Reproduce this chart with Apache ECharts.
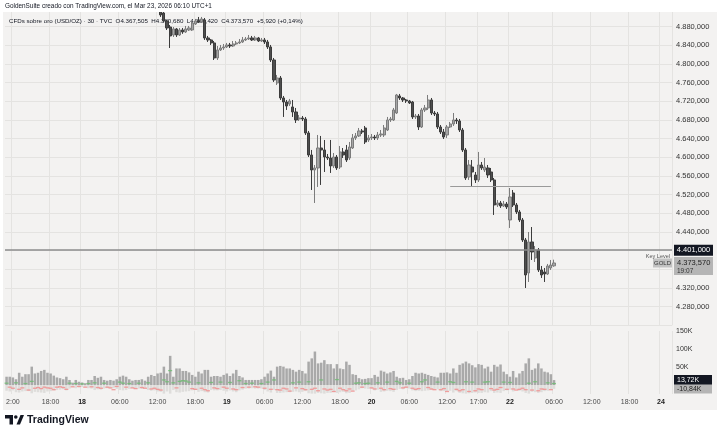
<!DOCTYPE html>
<html lang="es">
<head>
  <meta charset="UTF-8">
  <title>CFDs sobre oro (USD/OZ) · 30 · TVC</title>
  <script src="https://cdn.jsdelivr.net/npm/echarts@6/dist/echarts.min.js"></script>
  <style>html,body{margin:0;padding:0;background:#fff;}</style>
</head>
<body>
  <div id="main" style="width:720px;height:439px;"></div>
  <script type="text/javascript">
    // 30 min bars, UTC+1, daily break 22:00-23:00, weekend skipped
    const sessions = [
      [17, '11:00', '23:30'], [18, '00:00', '23:30'], [19, '00:00', '23:30'],
      [20, '00:00', '21:30'], [22, '23:00', '23:30'], [23, '00:00', '23:30'], [24, '00:00', '01:30']
    ];
    const tickLabels = [
      ['17 12:00', '2:00'], ['17 18:00', '18:00'], ['18 00:00', '18'], ['18 06:00', '06:00'],
      ['18 12:00', '12:00'], ['18 18:00', '18:00'], ['19 00:00', '19'], ['19 06:00', '06:00'],
      ['19 12:00', '12:00'], ['19 18:00', '18:00'], ['20 00:00', '20'], ['20 06:00', '06:00'],
      ['20 12:00', '12:00'], ['20 17:00', '17:00'], ['22 23:00', '22'], ['23 06:00', '06:00'],
      ['23 12:00', '12:00'], ['23 18:00', '18:00'], ['24 00:00', '24']
    ];
    const dayLabels = ['18', '19', '20', '22', '24'];

    // bars before this index sit above the visible price range
    const firstVisible = 49;
    const opens = [
      4915.8, 4909.3, 4892.2, 4879.3, 4862.2, 4875.1, 4862.2, 4872.9, 4868.6, 4872.9,
      4872.9, 4885.8, 4892.2, 4890.1, 4894.3, 4855.8, 4851.5, 4845.1, 4812.9, 4830.1,
      4834.3, 4836.5, 4840.8, 4838.6, 4842.9, 4845.1, 4847.2, 4851.5, 4853.6, 4855.8,
      4851.5, 4855.8, 4849.3, 4851.5, 4847.2, 4836.5, 4808.6, 4759.3, 4770.0, 4727.2,
      4718.6, 4714.3, 4707.9, 4697.2, 4682.2, 4684.3, 4682.2, 4652.2, 4605.0, 4572.9,
      4577.2, 4620.0, 4615.8, 4600.7, 4598.6, 4581.5, 4600.7, 4579.3, 4611.5, 4615.8,
      4598.6, 4620.0, 4641.5, 4645.8, 4656.5, 4662.9, 4637.2, 4641.5, 4643.6, 4641.5,
      4647.9, 4647.9, 4658.6, 4680.0, 4680.0, 4695.0, 4731.5, 4727.2, 4722.9, 4720.8,
      4718.6, 4686.5, 4688.6, 4665.0, 4701.5, 4705.8, 4722.9, 4695.0, 4692.9, 4665.0,
      4654.3, 4647.9, 4665.0, 4671.5, 4680.0, 4677.9, 4658.6, 4615.8, 4557.9, 4579.3,
      4562.2, 4551.5, 4583.6, 4572.9, 4577.2, 4568.6, 4551.5, 4497.9, 4502.2, 4495.7,
      4500.0, 4465.8, 4523.6, 4497.9, 4482.9, 4465.8, 4422.9, 4352.2, 4418.6, 4384.3,
      4401.5, 4358.6, 4354.3, 4350.0, 4362.9, 4367.505
    ];
    const closes = [
      4905.1, 4892.2, 4877.2, 4860.1, 4875.1, 4862.2, 4872.9, 4868.6, 4875.1, 4877.2,
      4887.9, 4892.2, 4890.1, 4896.5, 4855.8, 4851.5, 4845.1, 4812.9, 4830.1, 4834.3,
      4836.5, 4840.8, 4838.6, 4842.9, 4845.1, 4847.2, 4851.5, 4853.6, 4855.8, 4851.5,
      4855.8, 4849.3, 4851.5, 4847.2, 4836.5, 4808.6, 4765.8, 4770.0, 4727.2, 4718.6,
      4710.0, 4720.8, 4697.2, 4680.0, 4684.3, 4682.2, 4652.2, 4605.0, 4572.9, 4577.2,
      4620.0, 4615.8, 4600.7, 4598.6, 4581.5, 4600.7, 4577.2, 4611.5, 4605.0, 4594.3,
      4622.2, 4641.5, 4645.8, 4656.5, 4654.3, 4632.9, 4641.5, 4643.6, 4641.5, 4647.9,
      4650.0, 4662.9, 4680.0, 4682.2, 4701.5, 4733.6, 4727.2, 4722.9, 4720.8, 4716.5,
      4686.5, 4688.6, 4665.0, 4701.5, 4705.8, 4722.9, 4695.0, 4692.9, 4665.0, 4654.3,
      4643.6, 4665.0, 4671.5, 4680.0, 4677.9, 4658.6, 4615.8, 4555.8, 4583.6, 4568.6,
      4551.5, 4583.6, 4577.2, 4579.3, 4562.2, 4551.5, 4497.9, 4502.2, 4495.7, 4500.0,
      4493.6, 4515.0, 4497.9, 4482.9, 4465.8, 4422.9, 4347.9, 4418.6, 4397.2, 4401.5,
      4358.6, 4347.9, 4350.0, 4367.2, 4369.3, 4373.57
    ];
    const highs = [
      4924.3, 4915.8, 4894.3, 4883.6, 4879.3, 4877.2, 4877.2, 4877.2, 4881.5, 4881.5,
      4892.2, 4896.5, 4900.8, 4900.8, 4898.6, 4860.1, 4853.6, 4849.3, 4838.6, 4840.8,
      4842.9, 4845.1, 4845.1, 4849.3, 4849.3, 4853.6, 4857.9, 4857.9, 4862.2, 4860.1,
      4860.1, 4857.9, 4855.8, 4855.8, 4851.5, 4840.8, 4812.9, 4776.5, 4774.3, 4731.5,
      4722.9, 4725.1, 4722.9, 4705.8, 4690.8, 4688.6, 4686.5, 4656.5, 4615.8, 4583.6,
      4647.9, 4645.8, 4637.2, 4607.2, 4637.2, 4609.3, 4605.0, 4624.3, 4620.0, 4626.5,
      4632.9, 4650.0, 4652.2, 4662.9, 4660.7, 4667.2, 4647.9, 4650.0, 4647.9, 4654.3,
      4658.6, 4669.3, 4686.5, 4686.5, 4705.8, 4735.8, 4735.8, 4729.3, 4725.1, 4722.9,
      4720.8, 4692.9, 4692.9, 4705.8, 4712.2, 4733.6, 4727.2, 4699.3, 4697.2, 4669.3,
      4660.7, 4669.3, 4675.8, 4695.0, 4684.3, 4682.2, 4662.9, 4620.0, 4594.3, 4594.3,
      4568.6, 4611.5, 4590.0, 4598.6, 4583.6, 4577.2, 4555.8, 4508.6, 4506.5, 4506.5,
      4504.3, 4534.3, 4530.0, 4502.2, 4487.2, 4470.0, 4427.2, 4440.0, 4450.7, 4410.0,
      4405.7, 4367.2, 4362.9, 4371.5, 4380.0, 4380.68
    ];
    const lows = [
      4900.8, 4890.1, 4872.9, 4834.3, 4857.9, 4857.9, 4860.1, 4864.6, 4866.5, 4870.8,
      4870.8, 4883.6, 4887.9, 4887.9, 4851.5, 4847.2, 4840.8, 4808.6, 4808.6, 4827.9,
      4830.1, 4834.3, 4834.3, 4836.5, 4840.8, 4842.9, 4845.1, 4849.3, 4851.5, 4849.3,
      4849.3, 4847.2, 4847.2, 4842.9, 4832.2, 4804.3, 4761.5, 4755.0, 4722.9, 4686.5,
      4701.5, 4710.0, 4686.5, 4673.6, 4677.9, 4677.9, 4647.9, 4600.7, 4530.0, 4502.2,
      4536.5, 4540.8, 4568.6, 4594.3, 4566.5, 4577.2, 4572.9, 4575.0, 4598.6, 4590.0,
      4594.3, 4617.9, 4637.2, 4643.6, 4650.0, 4628.6, 4632.9, 4637.2, 4637.2, 4637.2,
      4643.6, 4643.6, 4656.5, 4675.8, 4677.9, 4692.9, 4722.9, 4718.6, 4716.5, 4714.3,
      4682.2, 4682.2, 4658.6, 4662.9, 4697.2, 4701.5, 4690.8, 4688.6, 4660.7, 4650.0,
      4639.3, 4641.5, 4662.9, 4667.2, 4671.5, 4654.3, 4611.5, 4551.5, 4551.5, 4538.6,
      4545.0, 4547.2, 4572.9, 4568.6, 4555.8, 4547.2, 4476.5, 4493.6, 4491.5, 4493.6,
      4489.3, 4448.6, 4493.6, 4478.6, 4461.5, 4418.6, 4320.0, 4332.9, 4380.0, 4375.7,
      4354.3, 4341.5, 4332.9, 4347.9, 4358.6, 4365.42
    ];

    // volume pane, thousands
    const volume = [
      23, 23, 21, 16, 34, 23, 30, 30, 51, 32, 34, 39, 42, 34, 32, 26, 21, 19, 16, 23,
      14, 6.5, 14, 9, 7, 5, 14, 14, 25, 20, 23, 14, 12, 14, 12, 16, 23, 26, 23, 16,
      12, 14, 14, 16, 12, 23, 28, 25, 32, 34, 51, 32, 81, 23, 46, 46, 39, 39, 35, 28,
      23, 37, 32, 42, 42, 23, 25, 25, 23, 28, 32, 25, 32, 42, 25, 21, 14, 14, 14, 14,
      14, 16, 23, 32, 40, 23, 51, 53, 51, 46, 46, 42, 37,
      42, 39, 32, 65, 74, 93, 60, 62, 69, 58, 58, 46, 58, 46, 44, 65, 56, 30, 28, 19,
      16, 17, 19, 19, 28, 23, 40, 37, 32, 35, 39, 23, 19, 20, 14, 16, 25, 34, 32, 34,
      31, 28, 25, 23, 21, 34, 34, 35, 32, 46, 34, 56, 60, 65, 60, 55, 49, 58, 56, 46,
      51, 37, 56, 51, 57, 37, 30, 23, 39, 21, 32, 39, 60, 74, 42, 46, 60, 46, 37, 35,
      30, 13.72
    ];
    const sellVolume = [
      -16, -18, -15, -20, -21, -18, -17, -17, -23, -19, -20, -21, -22, -18, -17, -15, -14, -13, -12, -15,
      -10, -6, -9, -7, -6, -5, -9, -10, -14, -12, -13, -10, -9, -10, -9, -11, -14, -15, -14, -11,
      -9, -10, -10, -11, -9, -14, -16, -15, -18, -19, -24, -18, -24, -14, -20, -21, -19, -18, -17, -15,
      -14, -19, -17, -20, -21, -14, -15, -15, -14, -16, -18, -15, -18, -20, -15, -13, -10, -10, -9, -10,
      -10, -10, -14, -18, -21, -14, -22, -22, -21, -20, -20, -19, -18,
      -20, -19, -17, -23, -24, -24, -22, -23, -24, -22, -22, -20, -22, -20, -19, -23, -22, -16, -15, -12,
      -9, -10, -11, -11, -15, -13, -19, -18, -16, -17, -19, -14, -11, -12, -9, -10, -15, -17, -16, -17,
      -16, -15, -14, -13, -12, -17, -17, -18, -16, -21, -17, -22, -23, -24, -23, -22, -21, -22, -22, -20,
      -21, -17, -22, -21, -22, -17, -15, -13, -18, -12, -16, -18, -22, -24, -19, -20, -22, -20, -17, -16,
      -14, -10.84
    ];
    const delta = [
      5, -6, -9, 6, -12, -8, 4, -14, 10, -9, -7, -10, -6, -8, -9, -13, -6, -5, -7, -12,
      5, -5, 4, -4, 3, -6, 4, -5, 6, -7, -9, 5, -6, -8, -13, -4, 8, 5, -6, 4,
      -8, -10, 5, -7, -9, 6, -11, -9, -12, -14, 14, 9, 40, 6, -8, 10, 12, 11, 8, -10,
      -12, 6, -9, -13, -16, 7, -8, -10, 8, -6, -9, 7, -11, -13, 12, -7, 4, -6, 5, -5,
      -6, 4, -9, 8, -12, 14, -13, -14, -9, -11, -17, 6, -8,
      8, -10, -13, 9, -12, -9, -16, 14, -11, -14, -12, -18, 15, -9, -13, -16, -11, -17, 5, 6,
      -6, 4, 5, -8, -11, 6, -9, -13, 8, -10, -12, 10, 6, -8, -6, 5, -9, -12, -10, 9,
      14, -7, -11, -13, 8, -13, -10, -18, 9, 7, -12, -16, -13, 9, -18, 8, -16, -11, -13, 8,
      9, -10, -14, -12, -7, 8, -12, 7, -11, -14, -12, -9, -13, 5, -14, 9, -16, -11, -12, 6,
      -13, 4
    ];
    const keyLevel = 4401;
    const supportLevel = 4539;
    const supportFrom = '20 12:30', supportTo = '23 05:30';

    function buildTimes() {
      const out = [];
      const toSlot = s => { const p = s.split(':'); return (+p[0]) * 2 + (+p[1]) / 30; };
      sessions.forEach(([day, from, to]) => {
        for (let s = toSlot(from); s <= toSlot(to); s++) {
          const hh = Math.floor(s / 2);
          if (hh === 22) continue;
          out.push(day + ' ' + String(hh).padStart(2, '0') + ':' + (s % 2 ? '30' : '00'));
        }
      });
      return out;
    }
    const times = buildTimes();
    const labelMap = new Map(tickLabels);

    function fmtPrice(v) {
      const s = v.toFixed(3).split('.');
      return s[0].replace(/\B(?=(\d{3})+(?!\d))/g, '.') + ',' + s[1];
    }
    function fmtK(v) { return v.toFixed(2).replace('.', ',') + 'K'; }

    const candleData = [];
    for (let k = 0; k < firstVisible; k++) candleData.push('-');
    opens.forEach((o, j) => candleData.push([o, closes[j], lows[j], highs[j]]));

    const FONT = '"Liberation Sans", Arial, sans-serif';
    const gridLine = { show: true, lineStyle: { color: '#e4e3e1', width: 1 } };
    const showTick = (idx, val) => labelMap.has(val);

    var myChart = echarts.init(document.getElementById('main'));
    var option = {
      animation: false,
      backgroundColor: '#ffffff',
      textStyle: { fontFamily: FONT },
      grid: [
        { left: 5, right: 48, top: 8, height: 317.33 },
        { left: 5, right: 48, top: 331, height: 63 }
      ],
      xAxis: [
        {
          type: 'category', gridIndex: 0, data: times, boundaryGap: true,
          axisLine: { show: false }, axisTick: { show: false }, axisLabel: { show: false },
          splitLine: Object.assign({ interval: showTick }, gridLine)
        },
        {
          type: 'category', gridIndex: 1, data: times, boundaryGap: true,
          axisLine: { show: false }, axisTick: { show: false },
          splitLine: Object.assign({ interval: showTick }, gridLine),
          axisLabel: {
            interval: showTick, margin: 5, fontSize: 7, color: '#4a4a4a', fontFamily: FONT,
            formatter: v => {
              const t = labelMap.get(v) || '';
              return dayLabels.includes(t) ? '{b|' + t + '}' : t;
            },
            rich: { b: { fontWeight: 'bold', fontSize: 7, color: '#222', fontFamily: FONT } }
          }
        }
      ],
      yAxis: [
        {
          type: 'value', gridIndex: 0, position: 'right', min: 4240, max: 4920, interval: 40,
          axisLine: { show: false }, axisTick: { show: false },
          splitLine: gridLine,
          axisLabel: {
            margin: 4, fontSize: 7.5, color: '#333', fontFamily: FONT,
            formatter: v => (v >= 4280 && v <= 4880 && v !== 4360 && v !== 4400) ? fmtPrice(v) : ''
          }
        },
        {
          type: 'value', gridIndex: 1, position: 'right', min: -25000, max: 150000, interval: 25000,
          axisLine: { show: false }, axisTick: { show: false }, splitLine: { show: false },
          axisLabel: {
            margin: 4, fontSize: 7, color: '#333', fontFamily: FONT,
            formatter: v => (v > 0 && v % 50000 === 0) ? (v / 1000) + 'K' : ''
          }
        }
      ],
      series: [
        {
          name: 'GOLD', type: 'candlestick', xAxisIndex: 0, yAxisIndex: 0,
          data: candleData, barWidth: '84%',
          itemStyle: {
            color: '#a6a6a6', color0: '#4e4e4e',
            borderColor: '#7c7c7c', borderColor0: '#3c3c3c', borderWidth: 1
          },
          markLine: {
            silent: true, symbol: ['none', 'none'], label: { show: false },
            data: [
              { yAxis: keyLevel, lineStyle: { color: '#8d8d8d', width: 1.5, type: 'solid' } },
              [
                { coord: [supportFrom, supportLevel], lineStyle: { color: '#9a9a9a', width: 1.2, type: 'solid' } },
                { coord: [supportTo, supportLevel] }
              ]
            ]
          }
        },
        {
          name: 'Vol', type: 'bar', xAxisIndex: 1, yAxisIndex: 1,
          data: volume.map(v => v * 1000), barWidth: '80%',
          itemStyle: { color: '#a9a9a9' }
        },
        {
          name: 'Sell', type: 'bar', xAxisIndex: 1, yAxisIndex: 1,
          data: sellVolume.map(v => v * 1000), barWidth: '80%', barGap: '-100%',
          itemStyle: { color: '#dedddb' }
        },
        {
          name: 'Delta+', type: 'scatter', xAxisIndex: 1, yAxisIndex: 1,
          data: delta.map(v => v > 0 ? v * 1000 : '-'),
          symbol: 'rect', symbolSize: [4, 1.3], itemStyle: { color: '#6dbb71' }
        },
        {
          name: 'Delta-', type: 'scatter', xAxisIndex: 1, yAxisIndex: 1,
          data: delta.map(v => v < 0 ? v * 1000 : '-'),
          symbol: 'rect', symbolSize: [4, 1.3], itemStyle: { color: '#f08a8a' }
        }
      ]
    };
    myChart.setOption(option);

    // labels that sit on the price and volume scales
    const last = closes.length - 1;
    const keyY = myChart.convertToPixel({ yAxisIndex: 0 }, keyLevel);
    const lastY = myChart.convertToPixel({ yAxisIndex: 0 }, closes[last]);
    const volY = myChart.convertToPixel({ yAxisIndex: 1 }, volume[volume.length - 1] * 1000);
    const sellY = myChart.convertToPixel({ yAxisIndex: 1 }, sellVolume[sellVolume.length - 1] * 1000);

    const txt = (text, x, y, size, fill, extra) => ({
      type: 'text', z: 101,
      style: Object.assign({ text: text, x: x, y: y, fontSize: size, fontFamily: FONT, fill: fill, verticalAlign: 'middle' }, extra || {})
    });
    const box = (x, y, w, h, fill) => ({ type: 'rect', z: 100, shape: { x: x, y: y, width: w, height: h }, style: { fill: fill } });

    myChart.setOption({
      graphic: [
        { type: 'rect', z: -10, shape: { x: 3, y: 12, width: 714, height: 398 }, style: { fill: '#f3f2f1' } },
        { type: 'rect', z: 99, shape: { x: 0, y: 0, width: 720, height: 12 }, style: { fill: '#ffffff' } },
        txt('GoldenSuite creado con TradingView.com, el Mar 23, 2026 06:10 UTC+1', 5, 6.5, 6.4, '#131722'),
        { type: 'text', z: 1, style: { text: 'CFDs sobre oro (USD/OZ) · 30 · TVC  O' + fmtPrice(opens[last]) + '  H' + fmtPrice(highs[last]) + '  L' + fmtPrice(lows[last]) + '  C' + fmtPrice(closes[last]) + '  +5,920 (+0,14%)', x: 9, y: 21, fontSize: 6.2, fontFamily: FONT, fill: '#131722', verticalAlign: 'middle' } },
        box(674, keyY - 5.5, 39, 11, '#131722'),
        txt(fmtPrice(keyLevel), 693.5, keyY, 7.5, '#ffffff', { align: 'center' }),
        txt('Key Level', 670, keyY + 6, 5.5, '#555555', { align: 'right' }),
        box(653, lastY - 4.5, 19, 9, '#c2c2c2'),
        txt('GOLD', 662.5, lastY, 6, '#333333', { align: 'center' }),
        box(674, lastY - 6, 39, 18, '#b5b5b5'),
        txt(fmtPrice(closes[last]), 677, lastY, 7.5, '#1e1e1e'),
        txt('19:07', 677, lastY + 8, 6.5, '#333333'),
        box(674, volY - 5, 38, 10, '#131722'),
        txt(fmtK(volume[volume.length - 1]), 677, volY, 7, '#ffffff'),
        box(674, sellY - 4.5, 38, 9, '#b5b5b5'),
        txt(fmtK(sellVolume[sellVolume.length - 1]), 677, sellY, 7, '#1e1e1e'),
        // TradingView logo
        { type: 'rect', shape: { x: 5, y: 415, width: 8, height: 3.5 }, style: { fill: '#131722' } },
        { type: 'rect', shape: { x: 9.5, y: 415, width: 3.5, height: 9.5 }, style: { fill: '#131722' } },
        { type: 'circle', shape: { cx: 15.8, cy: 417, r: 1.8 }, style: { fill: '#131722' } },
        { type: 'polygon', shape: { points: [[16.5, 424.5], [20, 424.5], [24, 415], [20.5, 415]] }, style: { fill: '#131722' } },
        { type: 'text', style: { text: 'TradingView', x: 27, y: 420, fontSize: 10.5, fontWeight: 'bold', fontFamily: FONT, fill: '#131722', verticalAlign: 'middle' } }
      ]
    });
  </script>
</body>
</html>
